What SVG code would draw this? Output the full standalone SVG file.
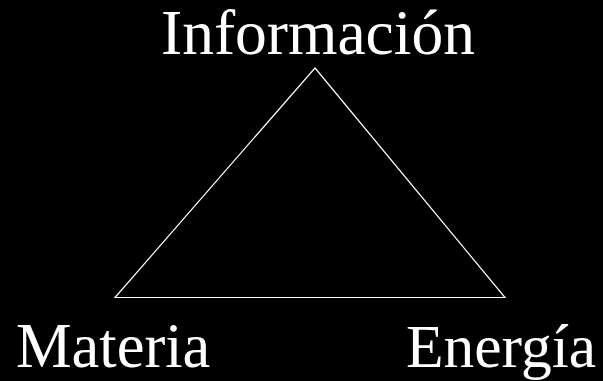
<svg xmlns="http://www.w3.org/2000/svg" width="603" height="381" viewBox="0 0 603 381">
<style>
.lbl{font-family:"Liberation Serif","Times New Roman",serif;fill:#fff;}
.edge{fill:none;stroke:#fff;stroke-width:1.2;}
</style>
<rect width="603" height="381" fill="#000"/>
<g id="connectors">
<polygon class="edge" points="315,68 505,297.5 115,297.5"/>
</g>
<g id="informacion"><text class="lbl" x="318" y="54" font-size="63.5" text-anchor="middle">Información</text></g>
<g id="materia"><text class="lbl" x="16" y="367" font-size="62.5">Materia</text></g>
<g id="energia"><text class="lbl" x="406" y="367" font-size="61.5">Energía</text></g>
</svg>
